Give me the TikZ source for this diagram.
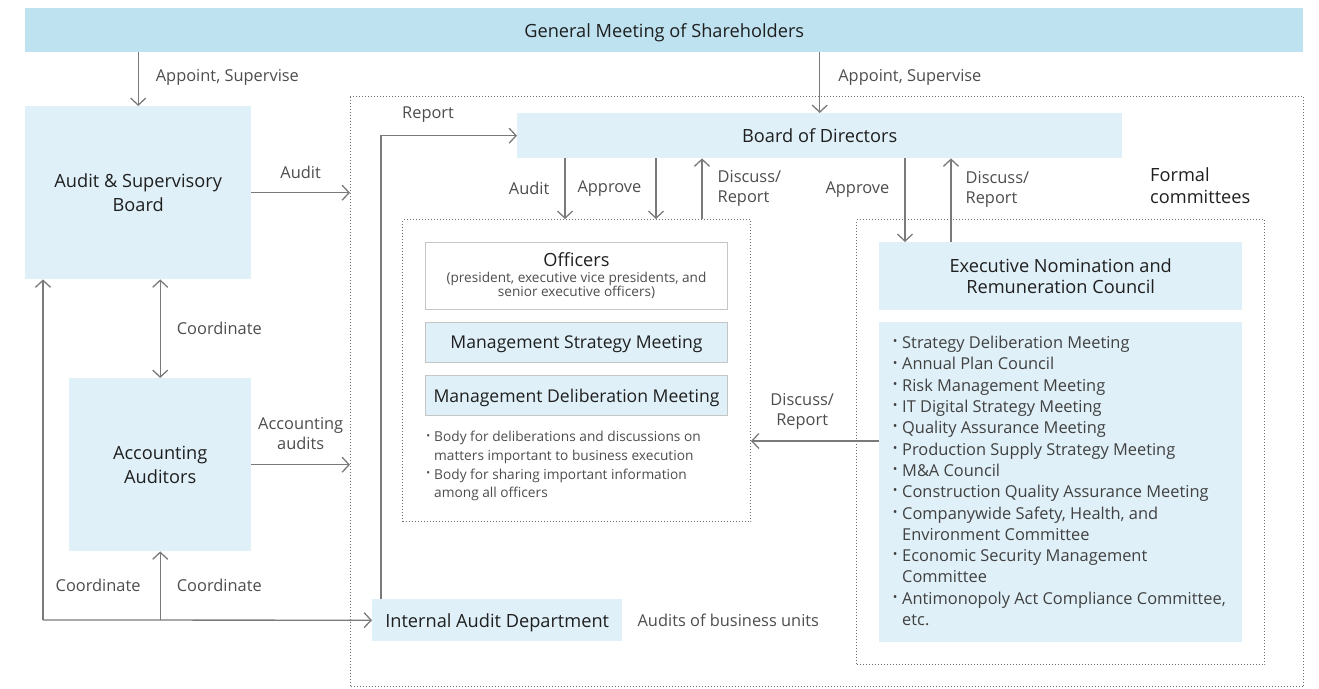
\documentclass[tikz,border=0pt]{standalone}
\usepackage{fontspec}
\setmainfont{Open Sans}
\usetikzlibrary{arrows.meta,positioning}

\definecolor{gmsblue}{HTML}{BEE2F0}
\definecolor{paleblue}{HTML}{DFF0F8}
\definecolor{arrowgray}{HTML}{7A7A7A}
\definecolor{dotgray}{HTML}{6E6E6E}
\definecolor{framegray}{HTML}{C6C6C6}
\definecolor{inkdark}{HTML}{1F1F1F}
\definecolor{inkgray}{HTML}{4D4D4D}

% font sizes (1pt = 1px here)
\newcommand\fsBox{\fontsize{18.2}{24}\selectfont}
\newcommand\fsMeet{\fontsize{17.6}{22}\selectfont}
\newcommand\fsLabel{\fontsize{16.4}{20}\selectfont}
\newcommand\fsList{\fontsize{16.4}{21.3}\selectfont}
\newcommand\fsSmall{\fontsize{13.7}{18.7}\selectfont}
\newcommand\fsSub{\fontsize{13.6}{16}\selectfont}
% small bullet in a fixed box
\newcommand\blt[1][14pt]{\makebox[#1][c]{\raisebox{.18em}{\scalebox{.75}{•}}}}

\tikzset{
  orgbox/.style={fill=paleblue, text=inkdark, font=\fsBox, align=center, inner sep=0pt, anchor=north west},
  oneline/.style={text depth=0pt},
  topbar/.style={orgbox, oneline, fill=gmsblue},
  meetbox/.style={orgbox, draw=framegray, line width=1pt, font=\fsMeet},
  dotframe/.style={draw=dotgray, dotted, line width=1pt, anchor=north west, inner sep=0pt},
  conn/.style={draw=arrowgray, line width=1.3pt},
  arr/.style={conn, -{Straight Barb[length=7pt, width=15pt]}},
  arrboth/.style={conn, {Straight Barb[length=7pt, width=15pt]}-{Straight Barb[length=7pt, width=15pt]}},
  lbl/.style={text=inkgray, font=\fsLabel, inner sep=0pt, align=left},
}

\begin{document}
\begin{tikzpicture}[x=1pt, y=-1pt]
  \useasboundingbox (0,0) rectangle (1319,688);

  % dotted frames
  \node[dotframe, minimum width=953pt, minimum height=590pt] (outer) at (350,96) {};
  \node[dotframe, minimum width=348pt, minimum height=302pt] (execgrp) at (402,219) {};
  \node[dotframe, minimum width=408pt, minimum height=445pt] (cmtegrp) at (856,219) {};

  % shareholders and audit side
  \node[topbar, minimum width=1278pt, minimum height=44pt] (gms) at (25,8) {General Meeting of Shareholders};
  \node[orgbox, minimum width=226pt, minimum height=173pt] (asb) at (25,106) {Audit \& Supervisory\\Board};
  \node[orgbox, minimum width=182pt, minimum height=173pt] (aa) at (69,378) {Accounting\\Auditors};
  \node[orgbox, oneline, minimum width=250pt, minimum height=42pt] (iad) at (372,599) {Internal Audit Department};
  \node[lbl, right=15pt of iad] (iadnote) {Audits of business units};

  % board and execution side
  \node[orgbox, oneline, minimum width=605pt, minimum height=45pt] (bod) at (517,113) {Board of Directors};
  \node[meetbox, fill=white, minimum width=302pt, minimum height=67pt] (officers) at (425,242)
    {{\fontsize{18.2}{20}\selectfont Officers}\\[-6pt]
     {\fsSub\color{inkgray}(president, executive vice presidents, and}\\[-8pt]
     {\fsSub\color{inkgray}senior executive officers)}};
  \node[meetbox, oneline, minimum width=302pt, minimum height=40pt] (msm) at (425,322) {Management Strategy Meeting};
  \node[meetbox, oneline, minimum width=302pt, minimum height=40pt] (mdm) at (425,375) {Management Deliberation Meeting};
  \node[lbl, anchor=north west, font=\fsSmall] (mdmnote) at (422,431)
    {\blt[12pt]Body for deliberations and discussions on\\
     \hspace*{12pt}matters important to business execution\\
     \blt[12pt]Body for sharing important information\\
     \hspace*{12pt}among all officers};

  % formal committees
  \node[orgbox, minimum width=363pt, minimum height=68pt, font=\fontsize{18.2}{21}\selectfont] (enrc) at (879,242)
    {Executive Nomination and\\Remuneration Council};
  \node[orgbox, minimum width=363pt, minimum height=320pt] (cmte) at (879,322) {};
  \node[lbl, anchor=north west, font=\fsList, text=inkdark!85] (cmtelist) at (888,336)
    {\blt Strategy Deliberation Meeting\\
     \blt Annual Plan Council\\
     \blt Risk Management Meeting\\
     \blt IT Digital Strategy Meeting\\
     \blt Quality Assurance Meeting\\
     \blt Production Supply Strategy Meeting\\
     \blt M\&A Council\\
     \blt Construction Quality Assurance Meeting\\
     \blt Companywide Safety, Health, and\\
     \hspace*{14pt}Environment Committee\\
     \blt Economic Security Management\\
     \hspace*{14pt}Committee\\
     \blt Antimonopoly Act Compliance Committee,\\
     \hspace*{14pt}etc.};
  \node[anchor=west, font=\fontsize{18.2}{22}\selectfont, text=inkdark, align=left, inner sep=0pt] (formal) at (1150,186)
    {Formal\\committees};

  % appointment by shareholders
  \draw[arr] (gms.south -| asb.north) -- (asb.north)
    node[lbl, midway, anchor=west, xshift=17pt, yshift=2pt] {Appoint, Supervise};
  \draw[arr] (gms.south -| bod.north) -- (bod.north)
    node[lbl, midway, anchor=west, xshift=18pt, yshift=5pt] {Appoint, Supervise};

  % audits and reporting lines
  \draw[arr] (asb.east) -- (asb.east -| outer.west) node[lbl, midway, yshift=20pt] {Audit};
  \draw[arr] (aa.east) -- (aa.east -| outer.west)
    node[lbl, midway, yshift=31pt, align=center] {Accounting\\audits};
  \draw[arr] ([xshift=9pt]iad.north west) |- (bod.west) node[lbl, pos=0.673, yshift=21pt] {Report};

  % board <-> officers
  \coordinate (dnAudit) at ([xshift=48pt]bod.south west);
  \coordinate (dnApprove) at ([xshift=139pt]bod.south west);
  \coordinate (upReport) at ([xshift=185pt]bod.south west);
  \draw[arr] (dnAudit) -- (dnAudit |- execgrp.north) node[lbl, midway, anchor=east, xshift=-15pt] {Audit};
  \draw[arr] (dnApprove) -- (dnApprove |- execgrp.north) node[lbl, midway, anchor=east, xshift=-14pt] {Approve};
  \draw[arr] (upReport |- execgrp.north) -- (upReport) node[lbl, midway, anchor=west, xshift=15pt] {Discuss/\\Report};

  % board <-> committees
  \coordinate (dnApprove2) at ([xshift=26pt]enrc.north west);
  \coordinate (upReport2) at ([xshift=72pt]enrc.north west);
  \draw[arr] (dnApprove2 |- bod.south) -- (dnApprove2) node[lbl, pos=0.37, anchor=east, xshift=-15pt] {Approve};
  \draw[arr] (upReport2) -- (upReport2 |- bod.south) node[lbl, pos=0.63, anchor=west, xshift=14pt] {Discuss/\\Report};

  % committees -> officers
  \coordinate (cmteout) at ([yshift=-119pt]cmte.north west);
  \draw[arr] (cmteout) -- (cmteout -| execgrp.east)
    node[lbl, pos=0.6, yshift=30pt, align=center] {Discuss/\\Report};

  % coordination between auditors
  \draw[arrboth] (asb.south -| aa.north) -- (aa.north)
    node[lbl, midway, anchor=west, xshift=16pt] {Coordinate};
  \coordinate (corner) at (43,620);
  \draw[arr] (corner) -- (iad.west);
  \draw[arr] (corner) -- (corner |- asb.south);
  \draw[arr] (aa.south |- corner) -- (aa.south)
    node[lbl, midway, anchor=east, xshift=-19pt] {Coordinate}
    node[lbl, midway, anchor=west, xshift=16pt] {Coordinate};
\end{tikzpicture}
\end{document}
